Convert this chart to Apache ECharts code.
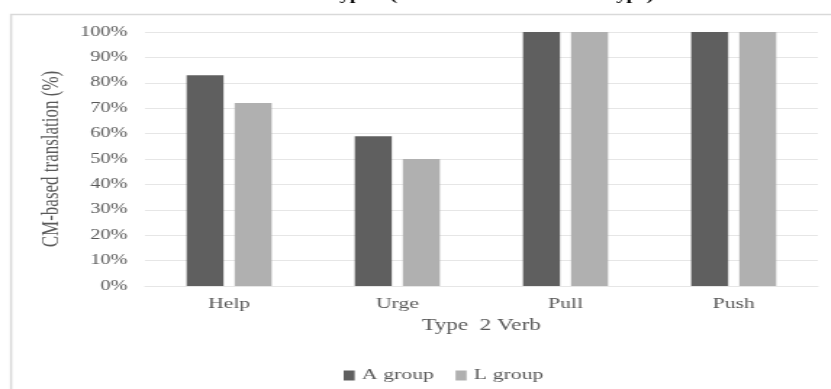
<!DOCTYPE html>
<html>
<head>
<meta charset="utf-8">
<script src="https://cdn.jsdelivr.net/npm/echarts@6/dist/echarts.min.js"></script>
<style>
  html, body { margin: 0; padding: 0; background: #fff; overflow: hidden; width: 831px; height: 389px; }
  #chart { width: 573px; height: 389px; transform: scaleX(1.45); transform-origin: 0 0; }
</style>
</head>
<body>
<div id="chart"></div>
<script>
const categories = ['Help', 'Urge', 'Pull', 'Push'];
const aGroup = [83, 59, 100, 100];
const lGroup = [72, 50, 100, 100];
const seriesNames = ['A group', 'L group'];
const titleText = 'Type 2 (Causative Verb + Noun Type)';
const xAxisName = 'Type  2 Verb';
const yAxisName = 'CM-based translation (%)';

const serif = '"Liberation Serif", "Times New Roman", serif';
const grayText = '#595959';

const chart = echarts.init(document.getElementById('chart'), null, { renderer: 'canvas' });
chart.setOption({
  animation: false,
  backgroundColor: '#ffffff',
  title: {
    text: titleText,
    left: 226,
    top: -11,
    padding: 0,
    textStyle: { fontFamily: serif, fontSize: 14, fontWeight: 'bold', color: '#000' }
  },
  graphic: [{
    type: 'rect',
    silent: true,
    shape: { x: 7.6, y: 14.5, width: 600, height: 400 },
    style: { fill: 'none', stroke: '#d9d9d9', lineWidth: 1.5 }
  }],
  legend: {
    data: seriesNames,
    left: 232,
    top: 363,
    itemWidth: 7.6,
    itemHeight: 10,
    itemGap: 15,
    icon: 'rect',
    textStyle: { fontFamily: serif, fontSize: 15, color: grayText }
  },
  grid: { left: 100, right: 9, top: 32, bottom: 103, containLabel: false },
  xAxis: {
    type: 'category',
    data: categories,
    name: xAxisName,
    nameLocation: 'middle',
    nameGap: 32,
    nameTextStyle: { fontFamily: serif, fontSize: 16, color: grayText },
    axisLine: { show: true, lineStyle: { color: '#e6e6e6', width: 1 } },
    axisTick: { show: false },
    axisLabel: { margin: 11, fontFamily: serif, fontSize: 15, color: grayText }
  },
  yAxis: {
    type: 'value',
    min: 0,
    max: 100,
    interval: 10,
    name: yAxisName,
    nameLocation: 'middle',
    nameGap: 50,
    nameRotate: 90,
    nameTextStyle: { fontFamily: serif, fontSize: 17, color: grayText },
    axisLine: { show: false },
    axisTick: { show: false },
    axisLabel: { margin: 12, fontFamily: serif, fontSize: 14, color: grayText, formatter: '{value}%' },
    splitLine: { lineStyle: { color: '#e6e6e6', width: 1 } }
  },
  series: [
    {
      name: seriesNames[0],
      type: 'bar',
      data: aGroup,
      barWidth: 25.5,
      barGap: '30%',
      itemStyle: { color: '#5f5f5f' }
    },
    {
      name: seriesNames[1],
      type: 'bar',
      data: lGroup,
      barWidth: 25.5,
      barGap: '30%',
      itemStyle: { color: '#b0b0b0' }
    }
  ]
});
</script>
</body>
</html>
